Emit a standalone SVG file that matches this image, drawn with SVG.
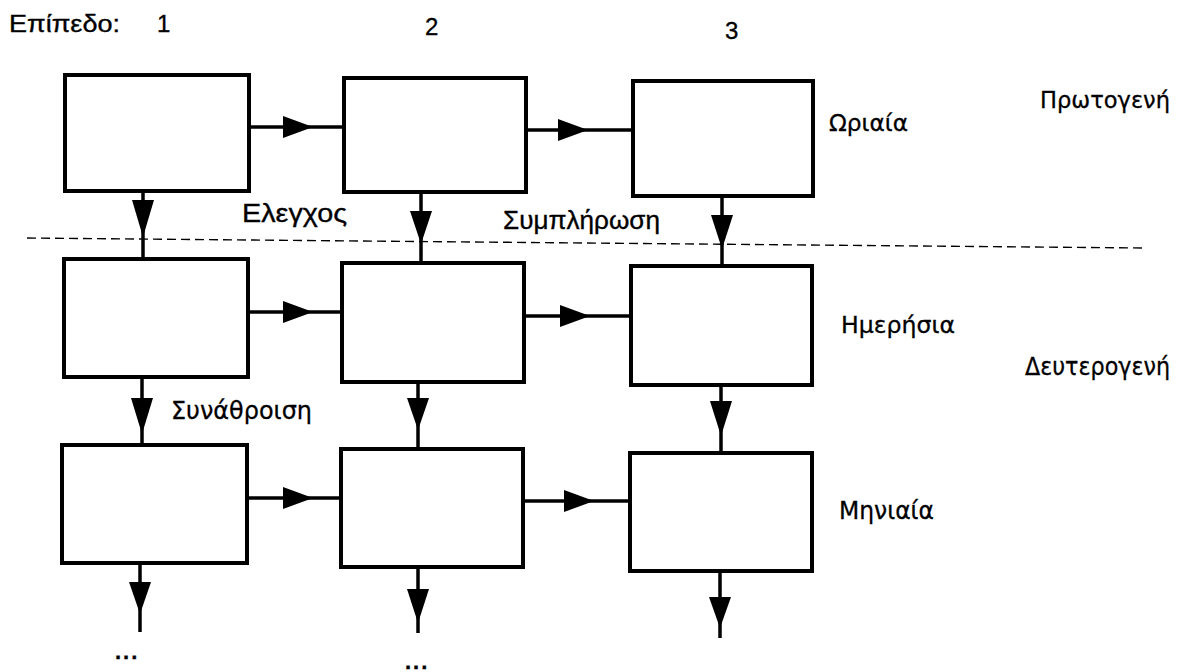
<svg xmlns="http://www.w3.org/2000/svg" width="1184" height="672" viewBox="0 0 1184 672">
  <style>
    .box { fill: #ffffff; stroke: #000000; stroke-width: 4; }
    .wire { stroke: #000000; stroke-width: 3.5; fill: none; }
    .head { fill: #000000; stroke: none; }
    .sep { stroke: #000000; stroke-width: 1.4; stroke-dasharray: 9 5; fill: none; }
    .hv { font-family: "Liberation Sans", Arial, sans-serif; fill: #000000; stroke: #000000; stroke-width: 0.35; }
    .rd { font-family: "DejaVu Sans", "Liberation Sans", sans-serif; fill: #000000; stroke: #000000; stroke-width: 0.3; }
  </style>

  <rect x="0" y="0" width="1184" height="672" fill="#ffffff"/>

  <!-- boundary between primary and secondary data -->
  <line class="sep" x1="27" y1="238" x2="1147" y2="248"/>

  <!-- processing stages: rows = time step, columns = level -->
  <g id="n-1-1"><rect class="box" x="65" y="75" width="184" height="116"/></g>
  <g id="n-1-2"><rect class="box" x="344" y="78" width="182" height="114"/></g>
  <g id="n-1-3"><rect class="box" x="633" y="81" width="180" height="115"/></g>

  <g id="n-2-1"><rect class="box" x="64" y="259" width="184" height="118"/></g>
  <g id="n-2-2"><rect class="box" x="342" y="263" width="182" height="119"/></g>
  <g id="n-2-3"><rect class="box" x="631" y="266" width="181" height="119"/></g>

  <g id="n-3-1"><rect class="box" x="62" y="445" width="185" height="118"/></g>
  <g id="n-3-2"><rect class="box" x="341" y="449" width="182" height="118"/></g>
  <g id="n-3-3"><rect class="box" x="630" y="453" width="182" height="118"/></g>

  <g id="connectors">
    <!-- horizontal: level to level -->
    <line class="wire" x1="249" y1="127" x2="344" y2="127"/>
    <polygon class="head" points="283,116 313,127 283,138"/>
    <line class="wire" x1="526" y1="130" x2="633" y2="130"/>
    <polygon class="head" points="558,119 588,130 558,141"/>

    <line class="wire" x1="248" y1="312" x2="342" y2="312"/>
    <polygon class="head" points="283,301 313,312 283,323"/>
    <line class="wire" x1="524" y1="316" x2="631" y2="316"/>
    <polygon class="head" points="560,305 590,316 560,327"/>

    <line class="wire" x1="247" y1="498" x2="341" y2="498"/>
    <polygon class="head" points="283,487 313,498 283,509"/>
    <line class="wire" x1="523" y1="501" x2="630" y2="501"/>
    <polygon class="head" points="564,490 594,501 564,512"/>

    <!-- vertical: step to step -->
    <line class="wire" x1="143" y1="191" x2="143" y2="259"/>
    <polygon class="head" points="132,200 154,200 143,237"/>
    <line class="wire" x1="421" y1="192" x2="421" y2="263"/>
    <polygon class="head" points="410,211 432,211 421,244"/>
    <line class="wire" x1="722" y1="196" x2="722" y2="266"/>
    <polygon class="head" points="711,215 733,215 722,249"/>

    <line class="wire" x1="142" y1="377" x2="142" y2="445"/>
    <polygon class="head" points="131,398 153,398 142,434"/>
    <line class="wire" x1="418" y1="382" x2="418" y2="449"/>
    <polygon class="head" points="407,398 429,398 418,430"/>
    <line class="wire" x1="721" y1="385" x2="721" y2="453"/>
    <polygon class="head" points="710,401 732,401 721,436"/>

    <line class="wire" x1="140" y1="563" x2="140" y2="632"/>
    <polygon class="head" points="129,582 151,582 140,614"/>
    <line class="wire" x1="418" y1="567" x2="418" y2="633"/>
    <polygon class="head" points="407,589 429,589 418,623"/>
    <line class="wire" x1="720" y1="571" x2="720" y2="638"/>
    <polygon class="head" points="709,597 731,597 720,628"/>
  </g>

  <g id="labels">
    <text class="hv" x="9" y="32" font-size="24" textLength="111" lengthAdjust="spacingAndGlyphs">Επίπεδο:</text>
    <text class="hv" x="157" y="32" font-size="24">1</text>
    <text class="hv" x="425" y="35" font-size="24">2</text>
    <text class="hv" x="725" y="39" font-size="24">3</text>

    <text class="hv" x="242" y="222" font-size="26" textLength="105" lengthAdjust="spacingAndGlyphs">Ελεγχος</text>
    <text class="hv" x="503" y="229" font-size="26" textLength="157" lengthAdjust="spacingAndGlyphs">Συμπλήρωση</text>
    <text class="rd" x="171" y="419" font-size="25" textLength="141" lengthAdjust="spacingAndGlyphs">Συνάθροιση</text>

    <text class="rd" x="829" y="131" font-size="23" textLength="79" lengthAdjust="spacingAndGlyphs">Ωριαία</text>
    <text class="rd" x="841" y="333" font-size="23" textLength="114" lengthAdjust="spacingAndGlyphs">Ημερήσια</text>
    <text class="rd" x="839" y="519" font-size="25" textLength="95" lengthAdjust="spacingAndGlyphs">Μηνιαία</text>

    <text class="rd" x="1040" y="108" font-size="23" textLength="130" lengthAdjust="spacingAndGlyphs">Πρωτογενή</text>
    <text class="rd" x="1025" y="375" font-size="24" textLength="145" lengthAdjust="spacingAndGlyphs">Δευτερογενή</text>

    <text class="hv" x="115" y="659" font-size="22" font-weight="bold" letter-spacing="2">...</text>
    <text class="hv" x="405" y="669" font-size="22" font-weight="bold" letter-spacing="2">...</text>
  </g>
</svg>
